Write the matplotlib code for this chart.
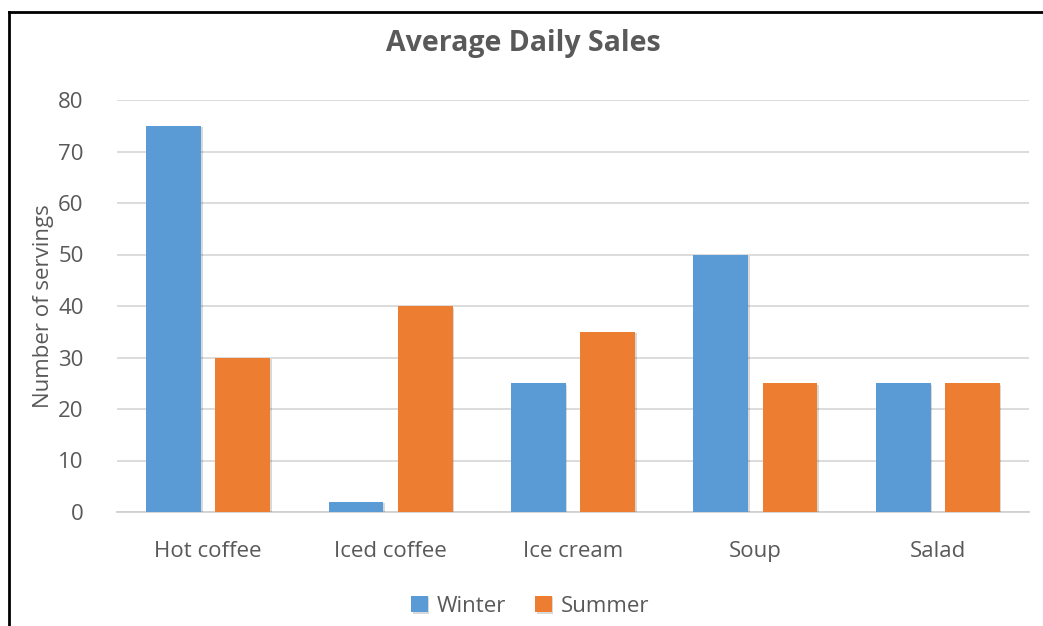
import numpy as np
import matplotlib.pyplot as plt
import matplotlib.patheffects as pe
from matplotlib.lines import Line2D

categories = ['Hot coffee', 'Iced coffee', 'Ice cream', 'Soup', 'Salad']
winter = [75, 2, 25, 50, 25]
summer = [30, 40, 35, 25, 25]
yticks = [0, 10, 20, 30, 40, 50, 60, 70, 80]

plt.rcParams['font.family'] = ['Open Sans', 'DejaVu Sans']
txt = '#595959'

fig = plt.figure(figsize=(10.43, 6.26), dpi=100)
ax = fig.add_axes([117/1043, 1 - 512/626, (1029-117)/1043, (512-100)/626])

x = np.arange(len(categories))
w = 0.30
shadow = [pe.SimplePatchShadow(offset=(1.2, -1.2), shadow_rgbFace='#000000', alpha=0.15), pe.Normal()]
b1 = ax.bar(x - 0.19, winter, w, color='#5b9bd5', label='Winter', zorder=3)
b2 = ax.bar(x + 0.19, summer, w, color='#ed7d31', label='Summer', zorder=3)
for b in list(b1) + list(b2):
    b.set_path_effects(shadow)

ax.set_xlim(-0.5, len(categories) - 0.5)
ax.set_ylim(0, 80)
ax.set_yticks(yticks)
ax.set_xticks(x)
ax.set_xticklabels(categories)
ax.grid(axis='y', color='#d9d9d9', linewidth=1.3, zorder=0)
for s in ['top', 'right', 'left']:
    ax.spines[s].set_visible(False)
ax.spines['bottom'].set_color('#d0d0d0')
ax.spines['bottom'].set_linewidth(1.3)
ax.tick_params(axis='both', length=0, labelsize=16, labelcolor=txt)
ax.tick_params(axis='y', pad=24)
ax.tick_params(axis='x', pad=21)
ax.set_ylabel('Number of servings', fontsize=16, color=txt, labelpad=3)

fig.text(523/1043, 1 - 43/626, 'Average Daily Sales', ha='center', va='center',
         fontsize=20.5, fontweight='bold', color=txt)

fig.legend(handles=[b1, b2], loc='center', bbox_to_anchor=(530/1043, 1 - 606/626),
           ncol=2, frameon=False, fontsize=16, labelcolor=txt,
           handlelength=0.75, handleheight=0.75, handletextpad=0.4, columnspacing=1.3)

# border of the chart area
fig.add_artist(Line2D([8.5/1043, 8.5/1043], [0, 1 - 12/626], color='black', linewidth=2))
fig.add_artist(Line2D([8.5/1043, 1], [1 - 12/626, 1 - 12/626], color='black', linewidth=2))

fig.savefig('out.png', dpi=100)
